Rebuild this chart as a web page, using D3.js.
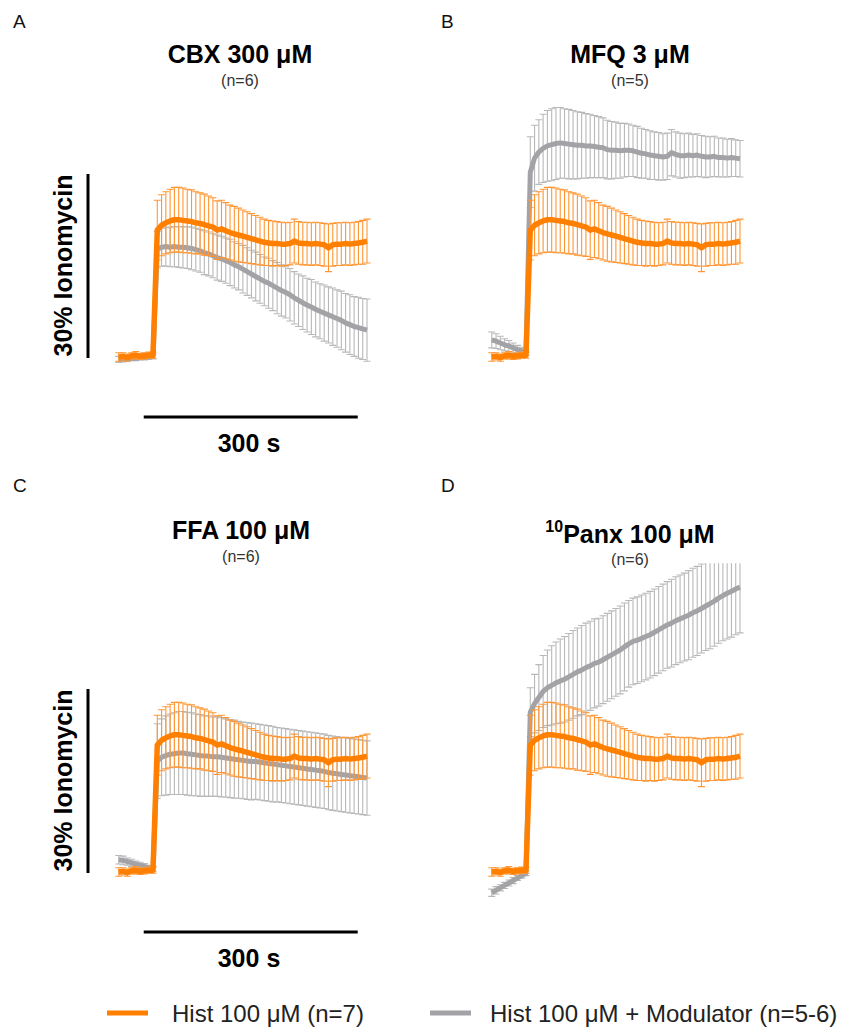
<!DOCTYPE html>
<html>
<head>
<meta charset="utf-8">
<script src="https://cdn.jsdelivr.net/npm/d3@7"></script>
<style>
  body { margin: 0; background: #fff; }
  svg { display: block; font-family: "Liberation Sans", Arial, sans-serif; }
</style>
</head>
<body>
<div id="fig"></div>
<script>
// sample times (s), stimulus at t = 0
const times = [-48, -42, -36, -30, -24, -18, -12, -6, 0,
  6, 12, 18, 24, 30, 36, 42, 48, 54, 60,
  66, 72, 78, 84, 90, 96, 102, 108, 114, 120,
  126, 132, 138, 144, 150, 156, 162, 168, 174, 180,
  186, 192, 198, 204, 210, 216, 222, 228, 234, 240,
  246, 252, 258, 264, 270, 276, 282, 288, 294, 300];

// Hist 100 uM alone (% ionomycin), same control in every panel
const histMean = [0.0, 0.1, -0.1, 0.2, 0.3, 0.1, 0.2, 0.3, 0.3,
  20.8, 21.6, 22.0, 22.3, 22.5, 22.5, 22.4, 22.3, 22.2, 22.0,
  21.9, 21.7, 21.5, 21.3, 20.8, 21.0, 20.7, 20.4, 20.2, 20.0,
  19.8, 19.6, 19.4, 19.2, 19.0, 18.8, 18.7, 18.6, 18.6, 18.5,
  18.5, 18.6, 19.0, 18.7, 18.6, 18.6, 18.5, 18.6, 18.5, 18.4,
  17.9, 18.4, 18.5, 18.5, 18.6, 18.5, 18.6, 18.7, 18.8, 19.0];
const histSem = [0.7, 0.6, 0.6, 0.5, 0.6, 0.5, 0.5, 0.5, 0.5,
  4.9, 5.0, 5.1, 5.2, 5.3, 5.3, 5.3, 5.2, 5.2, 5.1,
  5.0, 5.0, 4.9, 4.8, 4.8, 4.7, 4.6, 4.5, 4.5, 4.4,
  4.3, 4.2, 4.1, 4.0, 3.9, 3.8, 3.7, 3.7, 3.6, 3.6,
  3.5, 3.5, 3.6, 3.5, 3.5, 3.5, 3.5, 3.5, 3.5, 3.5,
  3.9, 3.5, 3.5, 3.5, 3.5, 3.5, 3.5, 3.5, 3.6, 3.6];

// Hist + CBX 300 uM
const cbxMean = [-0.4, -0.3, -0.3, -0.2, -0.2, -0.1, -0.1, 0.0, 0.1,
  17.6, 18.0, 18.1, 18.0, 18.1, 18.0, 18.0, 17.9, 17.8, 17.6,
  17.4, 17.1, 16.9, 16.6, 16.3, 16.1, 15.8, 15.5, 15.1, 14.8,
  14.4, 14.0, 13.6, 13.2, 12.8, 12.4, 12.1, 11.7, 11.3, 10.9,
  10.6, 10.2, 9.7, 9.3, 8.9, 8.5, 8.2, 7.8, 7.5, 7.2,
  6.9, 6.6, 6.3, 6.0, 5.6, 5.3, 5.0, 4.8, 4.6, 4.4];
const cbxSem = [0.5, 0.5, 0.4, 0.4, 0.4, 0.4, 0.4, 0.4, 0.4,
  3.0, 3.1, 3.2, 3.2, 3.3, 3.3, 3.4, 3.4, 3.5, 3.5,
  3.5, 3.6, 3.6, 3.6, 3.7, 3.7, 3.7, 3.8, 3.8, 3.8,
  3.9, 3.9, 3.9, 4.0, 4.0, 4.0, 4.1, 4.1, 4.2, 4.2,
  4.2, 4.3, 4.3, 4.3, 4.4, 4.4, 4.5, 4.5, 4.5, 4.6,
  4.6, 4.7, 4.7, 4.8, 4.8, 4.9, 4.9, 5.0, 5.0, 5.1];

// Hist + MFQ 3 uM
const mfqMean = [2.8, 2.6, 2.3, 2.0, 1.8, 1.5, 1.2, 1.0, 0.8,
  30.3, 32.6, 33.6, 34.2, 34.6, 34.8, 35.0, 35.1, 35.0, 34.9,
  34.8, 34.7, 34.7, 34.6, 34.6, 34.5, 34.4, 34.3, 34.0, 33.9,
  33.9, 33.8, 33.9, 33.9, 33.8, 33.6, 33.4, 33.3, 33.1, 33.0,
  32.9, 32.8, 32.9, 33.5, 33.2, 33.0, 33.0, 33.1, 33.0, 33.1,
  32.9, 32.8, 32.8, 32.9, 32.7, 32.7, 32.6, 32.7, 32.6, 32.5];
const mfqSem = [1.3, 1.2, 1.1, 1.0, 0.9, 0.8, 0.7, 0.6, 0.5,
  5.8, 5.4, 5.3, 5.6, 5.8, 5.9, 5.9, 5.8, 5.7, 5.7,
  5.6, 5.5, 5.4, 5.3, 5.2, 5.1, 5.0, 4.9, 4.8, 4.7,
  4.6, 4.5, 4.4, 4.3, 4.2, 4.2, 4.1, 4.0, 4.0, 3.9,
  3.9, 3.8, 3.8, 3.8, 3.7, 3.7, 3.6, 3.6, 3.5, 3.5,
  3.4, 3.4, 3.3, 3.3, 3.2, 3.2, 3.1, 3.1, 3.0, 3.0];

// Hist + FFA 100 uM
const ffaMean = [2.0, 1.9, 1.7, 1.5, 1.3, 1.1, 0.9, 0.7, 0.5,
  18.2, 18.8, 19.1, 19.3, 19.4, 19.5, 19.5, 19.4, 19.3, 19.2,
  19.1, 19.0, 19.0, 18.9, 18.9, 18.8, 18.7, 18.6, 18.5, 18.4,
  18.3, 18.2, 18.1, 18.1, 18.0, 17.9, 17.8, 17.7, 17.6, 17.5,
  17.4, 17.3, 17.2, 17.1, 17.0, 16.9, 16.8, 16.7, 16.6, 16.5,
  16.3, 16.2, 16.1, 16.0, 15.9, 15.8, 15.7, 15.6, 15.5, 15.4];
const ffaSem = [0.7, 0.7, 0.6, 0.6, 0.5, 0.5, 0.5, 0.4, 0.4,
  6.1, 6.3, 6.5, 6.6, 6.7, 6.8, 6.8, 6.8, 6.8, 6.7,
  6.7, 6.6, 6.6, 6.5, 6.5, 6.5, 6.4, 6.4, 6.4, 6.3,
  6.3, 6.3, 6.3, 6.2, 6.2, 6.2, 6.2, 6.2, 6.1, 6.1,
  6.1, 6.1, 6.1, 6.1, 6.1, 6.1, 6.1, 6.1, 6.1, 6.1,
  6.1, 6.1, 6.1, 6.1, 6.1, 6.1, 6.1, 6.1, 6.1, 6.1];

// Hist + 10Panx 100 uM
const panxMean = [-3.4, -3.0, -2.6, -2.2, -1.8, -1.4, -1.0, -0.6, -0.2,
  26.2, 27.6, 28.6, 29.6, 30.2, 30.6, 31.0, 31.3, 31.6, 32.0,
  32.4, 32.8, 33.1, 33.5, 33.8, 34.2, 34.4, 34.8, 35.2, 35.6,
  36.0, 36.4, 36.9, 37.4, 37.8, 38.0, 38.3, 38.6, 38.9, 39.3,
  39.7, 40.1, 40.5, 40.8, 41.2, 41.5, 41.8, 42.1, 42.5, 42.8,
  43.2, 43.6, 44.0, 44.4, 44.9, 45.3, 45.7, 46.0, 46.4, 46.7];
const panxSem = [0.6, 0.6, 0.5, 0.5, 0.5, 0.5, 0.4, 0.4, 0.4,
  4.0, 4.8, 5.4, 5.9, 6.2, 6.5, 6.7, 6.9, 7.0, 7.1,
  7.2, 7.2, 7.3, 7.3, 7.3, 7.3, 7.2, 7.2, 7.2, 7.2,
  7.2, 7.2, 7.2, 7.1, 7.1, 7.1, 7.1, 7.1, 7.1, 7.1,
  7.1, 7.1, 7.1, 7.2, 7.2, 7.2, 7.2, 7.3, 7.3, 7.3,
  7.3, 7.3, 7.4, 7.4, 7.4, 7.4, 7.5, 7.5, 7.5, 7.5];

const panelLetters = ["A", "B", "C", "D"];
const panelTitles = ["CBX 300 μM", "MFQ 3 μM", "FFA 100 μM", "Panx 100 μM"];
const panelN = ["(n=6)", "(n=5)", "(n=6)", "(n=6)"];
const modMeans = [cbxMean, mfqMean, ffaMean, panxMean];
const modSems = [cbxSem, mfqSem, ffaSem, panxSem];
const legendLabels = ["Hist 100 μM (n=7)", "Hist 100 μM + Modulator (n=5-6)"];

const orange = "#ff8000", orangeErr = "#ff9633";
const grey = "#a3a3a7", greyErr = "#b8b8b8";

const W = 842, H = 1028;
const svg = d3.select("#fig").append("svg").attr("width", W).attr("height", H);

// layout of each panel: offset, title spot, whether it carries scale bars
const layout = [
  { dx: 0, dy: 0, lx: 13, ly: 28, tx: 240, ty: 63, ny: 86, bars: true },
  { dx: 373, dy: 0, lx: 441, ly: 28, tx: 630, ty: 63, ny: 86, bars: false },
  { dx: 0, dy: 515, lx: 13, ly: 492, tx: 241, ty: 539, ny: 562, bars: true },
  { dx: 373, dy: 515, lx: 441, ly: 492, tx: 630, ty: 543, ny: 565, bars: false },
];

panelLetters.forEach((letter, i) => {
  const L = layout[i];
  const g = svg.append("g");

  const x = d3.scaleLinear().domain([0, 300]).range([153 + L.dx, 367 + L.dx]);
  const y = d3.scaleLinear().domain([0, 30]).range([357 + L.dy, 174 + L.dy]);

  g.append("text")
    .attr("x", L.lx).attr("y", L.ly)
    .attr("font-size", 19).attr("fill", "#111")
    .text(letter);

  const title = g.append("text")
    .attr("x", L.tx).attr("y", L.ty)
    .attr("text-anchor", "middle")
    .attr("font-size", 25).attr("font-weight", "bold");
  if (i === 3) {
    title.append("tspan").attr("font-size", 16).attr("dy", -11).text("10");
    title.append("tspan").attr("dy", 11).text(panelTitles[i]);
  } else {
    title.text(panelTitles[i]);
  }

  g.append("text")
    .attr("x", L.tx).attr("y", L.ny)
    .attr("text-anchor", "middle")
    .attr("font-size", 16).attr("fill", "#333")
    .text(panelN[i]);

  // traces are clipped at the top of the original axis range
  const clipId = "clip" + letter;
  svg.append("clipPath").attr("id", clipId)
    .append("rect")
    .attr("x", x(-70)).attr("y", y(50.6))
    .attr("width", x(330) - x(-70)).attr("height", y(-10) - y(50.6));

  const plot = g.append("g").attr("clip-path", `url(#${clipId})`);

  drawSeries(plot, modMeans[i], modSems[i], x, y, grey, greyErr, 5);
  drawSeries(plot, histMean, histSem, x, y, orange, orangeErr, 5.5);

  if (L.bars) {
    g.append("line")
      .attr("x1", 88).attr("x2", 88)
      .attr("y1", y(0) + 1).attr("y2", y(30))
      .attr("stroke", "#000").attr("stroke-width", 3);
    g.append("text")
      .attr("transform", `translate(72, ${(y(0) + y(30)) / 2}) rotate(-90)`)
      .attr("text-anchor", "middle")
      .attr("font-size", 25).attr("font-weight", "bold")
      .text("30% Ionomycin");

    const by = y(0) + 60;
    g.append("line")
      .attr("x1", x(-13)).attr("x2", x(287))
      .attr("y1", by).attr("y2", by)
      .attr("stroke", "#000").attr("stroke-width", 3);
    g.append("text")
      .attr("x", 249).attr("y", by + 35)
      .attr("text-anchor", "middle")
      .attr("font-size", 25).attr("font-weight", "bold")
      .text("300 s");
  }
});

function drawSeries(g, mean, sem, x, y, color, errColor, width) {
  const pts = times.map((t, k) => ({ t: t, m: mean[k], s: sem[k] }));

  const err = g.append("g")
    .attr("stroke", errColor)
    .attr("stroke-width", 1.1);

  err.selectAll("line.bar")
    .data(pts)
    .join("line")
    .attr("class", "bar")
    .attr("x1", (d) => x(d.t)).attr("x2", (d) => x(d.t))
    .attr("y1", (d) => y(d.m - d.s)).attr("y2", (d) => y(d.m + d.s));

  [1, -1].forEach((sign) => {
    err.append("g")
      .selectAll("line")
      .data(pts)
      .join("line")
      .attr("x1", (d) => x(d.t) - 3.5).attr("x2", (d) => x(d.t) + 3.5)
      .attr("y1", (d) => y(d.m + sign * d.s))
      .attr("y2", (d) => y(d.m + sign * d.s));
  });

  const line = d3.line()
    .x((d) => x(d.t))
    .y((d) => y(d.m));

  g.append("path")
    .datum(pts)
    .attr("fill", "none")
    .attr("stroke", color)
    .attr("stroke-width", width)
    .attr("stroke-linejoin", "round")
    .attr("d", line);
}

/* Legend */
const legend = svg.append("g").attr("font-size", 24).attr("fill", "#222");
const legendX = [107, 430];
const legendColors = [orange, grey];
legendLabels.forEach((label, i) => {
  legend.append("line")
    .attr("x1", legendX[i]).attr("x2", legendX[i] + 41)
    .attr("y1", 1013).attr("y2", 1013)
    .attr("stroke", legendColors[i]).attr("stroke-width", 5);
  legend.append("text")
    .attr("x", legendX[i] + (i === 0 ? 65 : 60)).attr("y", 1022)
    .text(label);
});
</script>
</body>
</html>
